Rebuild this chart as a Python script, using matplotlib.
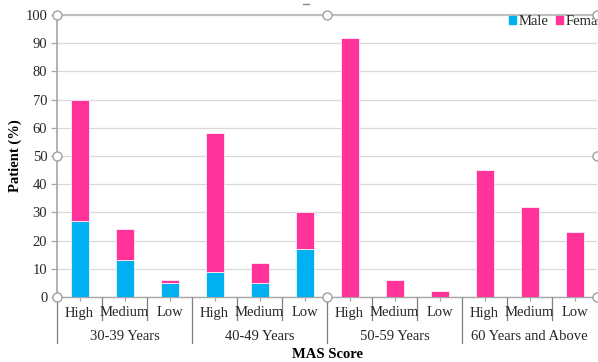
import matplotlib
matplotlib.use("Agg")
import matplotlib.pyplot as plt
from matplotlib.lines import Line2D
import numpy as np

groups = ["30-39 Years", "40-49 Years", "50-59 Years", "60 Years and Above"]
levels = ["High", "Medium", "Low"]
male = [27, 13, 5, 9, 5, 17, 0, 0, 0, 0, 0, 0]
female = [43, 11, 1, 49, 7, 13, 92, 6, 2, 45, 32, 23]
yticks = [0, 10, 20, 30, 40, 50, 60, 70, 80, 90, 100]

plt.rcParams['font.family'] = ['Liberation Serif', 'DejaVu Serif']

W, H = 598, 362
fig = plt.figure(figsize=(W / 100, H / 100), dpi=100)
left, right, top, bottom = 57, 597, 15, 297
ax = fig.add_axes([left / W, (H - bottom) / H, (right - left) / W, (bottom - top) / H])

x = np.arange(len(male))
cyan = "#00B0F0"
pink = "#FF3399"
txtc = "#262626"
ax.bar(x, male, width=0.4, color=cyan, edgecolor="white", linewidth=0.5, zorder=3)
ax.bar(x, female, bottom=male, width=0.4, color=pink, edgecolor="white", linewidth=0.5, zorder=3)

ax.set_xlim(-0.5, len(male) - 0.5)
ax.set_ylim(0, 100)
ax.set_yticks(yticks)
ax.set_yticklabels([str(v) for v in yticks], fontsize=10.5, color=txtc)
ax.yaxis.grid(True, color="#D9D9D9", linewidth=0.9, zorder=0)
ax.tick_params(axis="y", length=4, color="#A6A6A6", width=0.9, pad=3)

ax.spines["right"].set_visible(False)
ax.spines["left"].set_color("#A6A6A6")
ax.spines["bottom"].set_color("#A6A6A6")
ax.spines["top"].set_color("#BFBFBF")
ax.spines["top"].set_linewidth(1.5)
ax.spines["left"].set_linewidth(1.2)
ax.spines["bottom"].set_linewidth(1.0)

ax.set_xticks(x)
ax.set_xticklabels([])
ax.tick_params(axis="x", length=3, color="#A6A6A6", width=0.9)

ph = bottom - top
trans = ax.get_xaxis_transform()
for i in range(len(male)):
    ax.text(x[i], -16 / ph, levels[i % 3], transform=trans, ha="center", va="center",
            fontsize=10.5, color=txtc)
for i in range(len(male)):
    xs = i - 0.5
    y0 = -46 / ph if i % 3 == 0 else -23 / ph
    ax.add_line(Line2D([xs, xs], [0, y0], transform=trans, color="#7F7F7F",
                       linewidth=0.9, clip_on=False))
for g, name in enumerate(groups):
    ax.text(g * 3 + 1, -40 / ph, name, transform=trans, ha="center", va="center",
            fontsize=10.5, color=txtc)

ax.text(0.5, -57 / ph, "MAS Score", transform=ax.transAxes, ha="center", va="center",
        fontsize=10.5, fontweight="bold", color="black")
ax.set_ylabel("Patient (%)", fontsize=10.5, fontweight="bold", labelpad=2.5)

handles = [plt.Rectangle((0, 0), 1, 1, color=cyan), plt.Rectangle((0, 0), 1, 1, color=pink)]
fig.legend(handles, ["Male", "Female"], loc="upper left",
           bbox_to_anchor=(509 / W, 1 - 15 / H), ncol=2, frameon=False,
           fontsize=10.5, handlelength=0.45, handleheight=0.45, handletextpad=0.2,
           columnspacing=0.55, borderaxespad=0, borderpad=0, labelcolor=txtc)

pts = [(57, 15), (327, 15), (597, 15), (57, 156), (597, 156), (57, 297), (327, 297), (597, 297)]
fig.add_artist(Line2D([p[0] / W for p in pts], [1 - p[1] / H for p in pts],
                      transform=fig.transFigure, linestyle="none", marker="o",
                      markersize=6.5, markerfacecolor="white", markeredgecolor="#A0A0A0",
                      markeredgewidth=1.0, zorder=10))
fig.add_artist(Line2D([303 / W, 309 / W], [1 - 4 / H, 1 - 4 / H], transform=fig.transFigure,
                      color="#888888", linewidth=1.0))

fig.savefig("out.png", dpi=100)
